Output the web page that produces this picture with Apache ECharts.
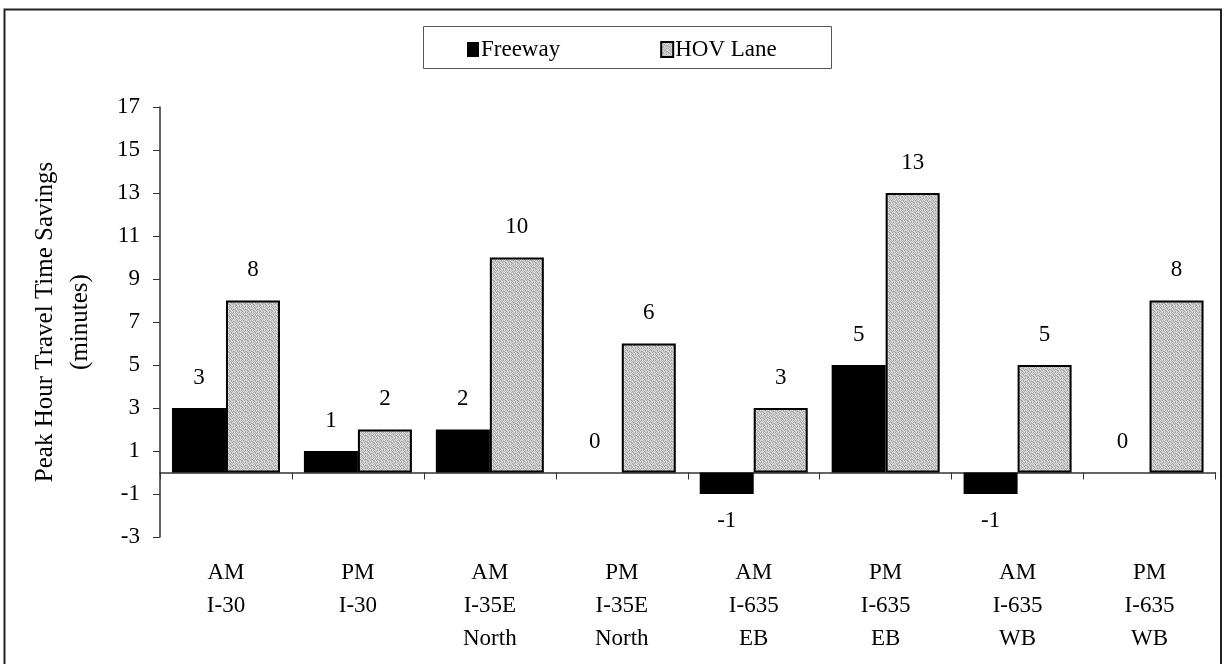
<!DOCTYPE html>
<html>
<head>
<meta charset="utf-8">
<script src="https://cdn.jsdelivr.net/npm/echarts@6/dist/echarts.min.js"></script>
<style>
html,body{margin:0;padding:0;background:#fff;}
#chart{width:1226px;height:664px;}
</style>
</head>
<body>
<div id="chart"></div>
<script>
var categories = ['AM\nI-30', 'PM\nI-30', 'AM\nI-35E\nNorth', 'PM\nI-35E\nNorth', 'AM\nI-635\nEB', 'PM\nI-635\nEB', 'AM\nI-635\nWB', 'PM\nI-635\nWB'];
var freeway = [3, 1, 2, 0, -1, 5, -1, 0];
var hovLane = [8, 2, 10, 6, 3, 13, 5, 8];
var seriesNames = ['Freeway', 'HOV Lane'];
var yMin = -3, yMax = 17, yStep = 2;

var FONT = 'Liberation Serif, Times New Roman, serif';

// stipple texture for HOV bars
function makePattern() {
  var c = document.createElement('canvas');
  c.width = 6; c.height = 6;
  var ctx = c.getContext('2d');
  var shades = [
    '#d8d8d8','#a9a9a9','#e6e6e6','#b8b8b8','#cfcfcf','#9f9f9f',
    '#bdbdbd','#e2e2e2','#a4a4a4','#d4d4d4','#b1b1b1','#dcdcdc',
    '#e8e8e8','#b4b4b4','#cacaca','#9c9c9c','#dedede','#c2c2c2',
    '#a7a7a7','#d0d0d0','#e4e4e4','#b7b7b7','#c6c6c6','#aaaaaa',
    '#cbcbcb','#9e9e9e','#bababa','#e0e0e0','#a2a2a2','#d6d6d6',
    '#e1e1e1','#c4c4c4','#a6a6a6','#cdcdcd','#e5e5e5','#b0b0b0'
  ];
  for (var i = 0; i < 36; i++) {
    ctx.fillStyle = shades[i];
    ctx.fillRect(i % 6, Math.floor(i / 6), 1, 1);
  }
  return c;
}
var pattern = { image: makePattern(), repeat: 'repeat' };

function withLabelPos(arr) {
  return arr.map(function (v) {
    return v < 0 ? { value: v, label: { position: 'bottom', distance: 15 } } : v;
  });
}

var chart = echarts.init(document.getElementById('chart'), null, { renderer: 'canvas' });
chart.setOption({
  animation: false,
  textStyle: { fontFamily: FONT, color: '#000' },
  graphic: [
    { type: 'rect', shape: { x: 4.5, y: 9.5, width: 1216.5, height: 700 },
      style: { fill: 'none', stroke: '#222', lineWidth: 2 }, silent: true },
    { type: 'rect', shape: { x: 423.5, y: 26.5, width: 408, height: 42 },
      style: { fill: 'none', stroke: '#555', lineWidth: 1 }, silent: true }
  ],
  legend: {
    data: seriesNames,
    left: 462,
    top: 33,
    itemGap: 100,
    itemWidth: 12,
    itemHeight: 15,
    icon: 'rect',
    textStyle: { fontFamily: FONT, fontSize: 23, color: '#000', padding: [0, 0, 0, -3] }
  },
  grid: { left: 160, right: 10.5, top: 107, bottom: 127, containLabel: false, outerBoundsMode: 'none' },
  xAxis: {
    type: 'category',
    data: categories,
    axisLine: { onZero: true, lineStyle: { color: '#333', width: 1.5 } },
    axisTick: { show: true, alignWithLabel: false, length: 7, lineStyle: { color: '#333' } },
    axisLabel: { fontFamily: FONT, fontSize: 23, color: '#000', lineHeight: 33, margin: 19, interval: 0 },
    splitLine: { show: false }
  },
  yAxis: {
    type: 'value',
    min: yMin, max: yMax, interval: yStep,
    name: 'Peak Hour Travel Time Savings\n(minutes)',
    nameLocation: 'middle',
    nameGap: 62,
    nameTextStyle: { fontFamily: FONT, fontSize: 25, color: '#000', lineHeight: 35 },
    axisLine: { show: true, lineStyle: { color: '#333', width: 1.5 } },
    axisTick: { show: true, length: 7, lineStyle: { color: '#333' } },
    axisLabel: { fontFamily: FONT, fontSize: 23, color: '#000', margin: 20 },
    splitLine: { show: false }
  },
  series: [
    {
      name: seriesNames[0],
      type: 'bar',
      data: withLabelPos(freeway),
      barWidth: 54,
      barGap: '0%',
      itemStyle: { color: '#000' },
      label: { show: true, position: 'top', distance: 19, fontFamily: FONT, fontSize: 23, color: '#000' }
    },
    {
      name: seriesNames[1],
      type: 'bar',
      data: withLabelPos(hovLane),
      barWidth: 54,
      barGap: '0%',
      itemStyle: { color: pattern, borderColor: '#000', borderWidth: 2 },
      label: { show: true, position: 'top', distance: 19, fontFamily: FONT, fontSize: 23, color: '#000' }
    }
  ]
});
</script>
</body>
</html>
